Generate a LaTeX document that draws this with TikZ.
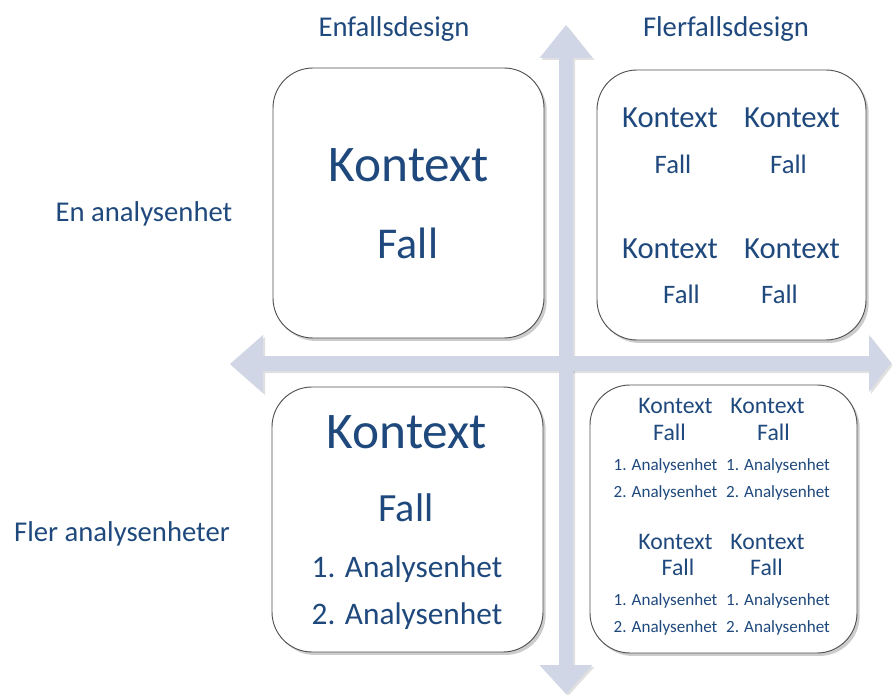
\documentclass[tikz,border=0pt]{standalone}
\usepackage{fontspec}
\setmainfont{Carlito}
\usetikzlibrary{shadows}
\definecolor{txt}{HTML}{1F497D}
\definecolor{arr}{HTML}{D0D6E6}
\definecolor{brd}{HTML}{505050}
\begin{document}
\begin{tikzpicture}[x=0.75pt,y=-0.75pt,
  box/.style={draw=brd, line width=0.7pt, fill=white, rounded corners=30pt,
    drop shadow={shadow xshift=2pt,shadow yshift=-2.2pt,opacity=0.4}, inner sep=0pt},
  lbl/.style={text=txt, inner sep=0pt, text depth=0pt, anchor=center},
  fLab/.style={lbl, font=\fontsize{21.5pt}{25pt}\selectfont},
  fBig/.style={lbl, font=\fontsize{38.5pt}{46pt}\selectfont},
  fBigFall/.style={lbl, font=\fontsize{33pt}{40pt}\selectfont},
  fBLFall/.style={lbl, font=\fontsize{30pt}{36pt}\selectfont},
  fBLAn/.style={lbl, font=\fontsize{23.5pt}{28pt}\selectfont},
  fTRK/.style={lbl, font=\fontsize{23pt}{28pt}\selectfont},
  fTRF/.style={lbl, font=\fontsize{20pt}{24pt}\selectfont},
  fBRK/.style={lbl, font=\fontsize{17.8pt}{21pt}\selectfont},
  fBRA/.style={lbl, font=\fontsize{12.8pt}{15pt}\selectfont},
  arrowshape/.style={fill=arr},
  arrowshadow/.style={fill=black, opacity=0.12}]
\useasboundingbox (0,0) rectangle (892,695);

% arrow shadows
\begin{scope}[shift={(2,2)}]
\fill[arrowshadow] (566,25) -- (592.5,58) -- (573,58) -- (573,665) -- (592.5,665) -- (566,694) -- (539.5,665) -- (559,665) -- (559,58) -- (539.5,58) -- cycle;
\fill[arrowshadow] (230,364) -- (263,335) -- (263,356) -- (869,356) -- (869,335) -- (891,363) -- (869,392) -- (869,371) -- (263,371) -- (263,393) -- cycle;
\end{scope}
% arrows
\fill[arrowshape] (566,25) -- (592.5,58) -- (573,58) -- (573,665) -- (592.5,665) -- (566,694) -- (539.5,665) -- (559,665) -- (559,58) -- (539.5,58) -- cycle;
\fill[arrowshape] (230,364) -- (263,335) -- (263,356) -- (869,356) -- (869,335) -- (891,363) -- (869,392) -- (869,371) -- (263,371) -- (263,393) -- cycle;

% boxes
\node[box, minimum width=203.25pt, minimum height=202.5pt] (tl) at (408.5,203) {};
\node[box, minimum width=201.75pt, minimum height=202.5pt] (tr) at (731.5,205) {};
\node[box, minimum width=203.25pt, minimum height=198.75pt] (bl) at (407.5,519.5) {};
\node[box, minimum width=200.25pt, minimum height=201pt] (br) at (723.5,519) {};

% axis labels
\node[fLab] (enf) at (394,27) {Enfallsdesign};
\node[fLab] (fler) at (726,27) {Flerfallsdesign};
\node[fLab] (ena) at (144,212) {En analysenhet};
\node[fLab] (flera) at (122,532) {Fler analysenheter};

% top left
\node[fBig] (tlk) at (409,165) {Kontext};
\node[fBigFall] (tlf) at (408,243) {Fall};

% top right
\node[fTRK] (trk1) at (670,118) {Kontext};
\node[fTRK] (trk2) at (792,118) {Kontext};
\node[fTRF] (trf1) at (673,164) {Fall};
\node[fTRF] (trf2) at (788.5,164) {Fall};
\node[fTRK] (trk3) at (670,249) {Kontext};
\node[fTRK] (trk4) at (792,249) {Kontext};
\node[fTRF] (trf3) at (681.5,294) {Fall};
\node[fTRF] (trf4) at (779.5,294) {Fall};

% bottom left
\node[fBig] (blk) at (407,432) {Kontext};
\node[fBLFall] (blf) at (406,508) {Fall};
\node[fBLAn] (bla1) at (407,567) {1. Analysenhet};
\node[fBLAn] (bla2) at (407,614) {2. Analysenhet};

% bottom right
\node[fBRK] (brk1) at (675.5,406) {Kontext};
\node[fBRK] (brk2) at (767.5,406) {Kontext};
\node[fBRK] (brf1) at (669.5,432) {Fall};
\node[fBRK] (brf2) at (773.5,432) {Fall};
\node[fBRA] (bra1) at (665.5,465) {1. Analysenhet};
\node[fBRA] (bra2) at (778,465) {1. Analysenhet};
\node[fBRA] (bra3) at (665.5,492) {2. Analysenhet};
\node[fBRA] (bra4) at (778,492) {2. Analysenhet};
\node[fBRK] (brk3) at (675.5,542) {Kontext};
\node[fBRK] (brk4) at (767.5,542) {Kontext};
\node[fBRK] (brf3) at (678,567) {Fall};
\node[fBRK] (brf4) at (766.5,567) {Fall};
\node[fBRA] (bra5) at (665.5,600) {1. Analysenhet};
\node[fBRA] (bra6) at (778,600) {1. Analysenhet};
\node[fBRA] (bra7) at (665.5,627) {2. Analysenhet};
\node[fBRA] (bra8) at (778,627) {2. Analysenhet};
\end{tikzpicture}
\end{document}
